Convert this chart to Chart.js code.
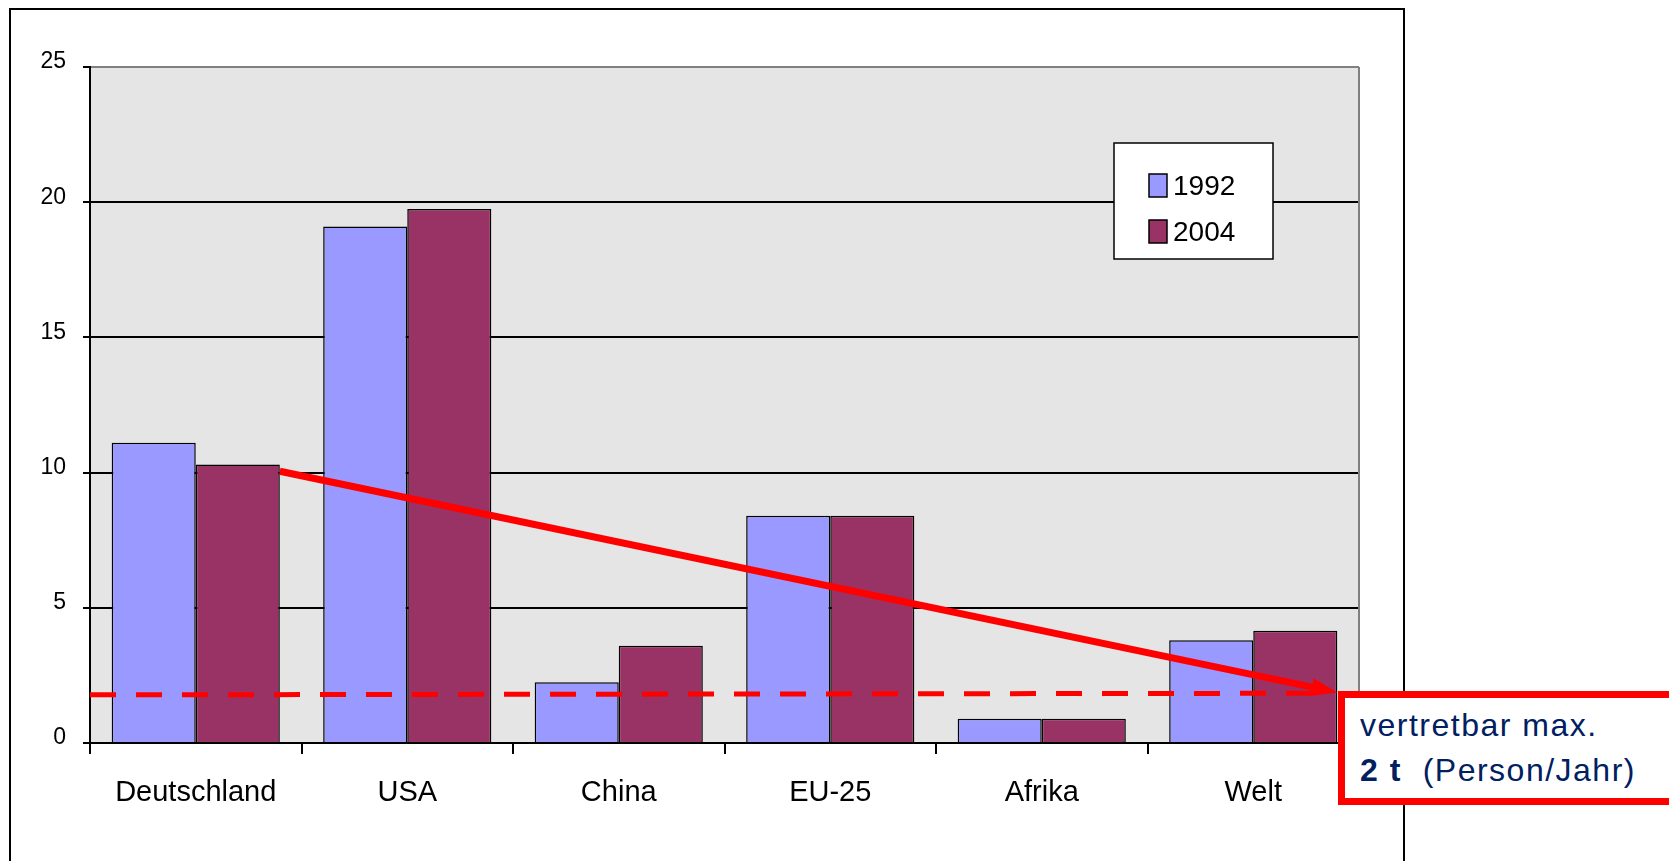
<!DOCTYPE html>
<html>
<head>
<meta charset="utf-8">
<title>CO2 pro Kopf</title>
<script src="https://cdn.jsdelivr.net/npm/chart.js@4.4.1/dist/chart.umd.min.js"></script>
<style>
  html, body { margin: 0; padding: 0; background: #fff; overflow: hidden; }
  #wrap { position: relative; width: 1669px; height: 861px; }
  #frame { position: absolute; left: 9px; top: 8px; width: 1396px; height: 900px; box-sizing: border-box; border: 2px solid #000; }
  #co2Chart { position: absolute; left: 0; top: 0; }
  #note {
    position: absolute; left: 1338px; top: 691px; width: 345px; height: 114px;
    box-sizing: border-box; border: 7px solid #ff0000; background: #fff;
    color: #002060; font-family: "Liberation Sans", Arial, sans-serif;
    font-size: 32px; line-height: 45px; padding: 5px 0 0 15px;
    letter-spacing: 1.5px; white-space: nowrap;
  }
</style>
</head>
<body>
<div id="wrap">
  <div id="frame"></div>
  <canvas id="co2Chart" width="1669" height="861"></canvas>
  <div id="note">vertretbar max.<br><b>2 t</b>&nbsp;&nbsp;(Person/Jahr)</div>
</div>
<script>
const categories = ["Deutschland", "USA", "China", "EU-25", "Afrika", "Welt"];
const years = ["1992", "2004"];
const values1992 = [11.1, 19.1, 2.25, 8.4, 0.9, 3.8];
const values2004 = [10.3, 19.75, 3.6, 8.4, 0.9, 4.15];
const yTicks = [0, 5, 10, 15, 20, 25];
const limitLine = [1.78, 1.84];   // gestrichelte Linie, links / rechts
const trendArrow = [10.05, 1.87]; // Pfeil: Deutschland 2004 -> Welt 2004

const FONT = "'Liberation Sans', Arial, sans-serif";

const chartDeco = {
    id: "chartDeco",
    beforeDraw(chart) {
        const { ctx, chartArea: a } = chart;
        ctx.save();
        ctx.fillStyle = "#e5e5e5";
        ctx.fillRect(a.left, a.top, a.right - a.left, a.bottom - a.top);
        ctx.restore();
    },
    afterDatasetsDraw(chart) {
        const { ctx, chartArea: a, scales } = chart;
        const y = scales.y;
        const bars = chart.getDatasetMeta(1).data;
        const first = bars[0];
        const last = bars[bars.length - 1];
        const x1 = first.x + first.width / 2;
        const y1 = y.getPixelForValue(trendArrow[0]);
        const x2 = last.x + last.width / 2;
        const y2 = y.getPixelForValue(trendArrow[1]);

        ctx.save();
        // rechter Rand der Zeichenfläche
        ctx.strokeStyle = "#808080";
        ctx.lineWidth = 2;
        ctx.beginPath();
        ctx.moveTo(a.right, a.top);
        ctx.lineTo(a.right, a.bottom);
        ctx.stroke();

        // gestrichelte Grenzlinie
        ctx.strokeStyle = "#ff0000";
        ctx.lineWidth = 5;
        ctx.setLineDash([26, 20]);
        ctx.beginPath();
        ctx.moveTo(a.left, y.getPixelForValue(limitLine[0]));
        ctx.lineTo(x2 - 20, y.getPixelForValue(limitLine[1]));
        ctx.stroke();
        ctx.setLineDash([]);

        // Pfeil
        const ang = Math.atan2(y2 - y1, x2 - x1);
        const head = 26, half = 9;
        ctx.lineWidth = 7;
        ctx.beginPath();
        ctx.moveTo(x1, y1);
        ctx.lineTo(x2 - Math.cos(ang) * (head - 4), y2 - Math.sin(ang) * (head - 4));
        ctx.stroke();
        ctx.fillStyle = "#ff0000";
        ctx.beginPath();
        ctx.moveTo(x2, y2);
        ctx.lineTo(x2 - Math.cos(ang) * head + Math.sin(ang) * half, y2 - Math.sin(ang) * head - Math.cos(ang) * half);
        ctx.lineTo(x2 - Math.cos(ang) * head - Math.sin(ang) * half, y2 - Math.sin(ang) * head + Math.cos(ang) * half);
        ctx.closePath();
        ctx.fill();
        ctx.restore();
    },
    afterDraw(chart) {
        // Legende
        const ctx = chart.ctx;
        const box = { x: 1114, y: 143, w: 159, h: 116 };
        ctx.save();
        ctx.fillStyle = "#fff";
        ctx.fillRect(box.x, box.y, box.w, box.h);
        ctx.strokeStyle = "#000";
        ctx.lineWidth = 1.5;
        ctx.strokeRect(box.x, box.y, box.w, box.h);
        ctx.font = "28px " + FONT;
        ctx.textBaseline = "alphabetic";
        chart.data.datasets.forEach((ds, i) => {
            const top = 174 + i * 46;
            ctx.fillStyle = ds.backgroundColor;
            ctx.fillRect(1149, top, 18, 23);
            ctx.strokeStyle = "#000";
            ctx.lineWidth = 1.5;
            ctx.strokeRect(1149, top, 18, 23);
            ctx.fillStyle = "#000";
            ctx.fillText(ds.label, 1173, top + 21);
        });
        ctx.restore();
    }
};

document.addEventListener("DOMContentLoaded", () => {
    const ctx = document.getElementById("co2Chart").getContext("2d");
    new Chart(ctx, {
        type: "bar",
        data: {
            labels: categories,
            datasets: [{
                label: years[0],
                data: values1992,
                backgroundColor: "#9999ff",
                borderColor: "#000",
                borderWidth: 1.5,
                categoryPercentage: 0.795,
                barPercentage: 1.0
            }, {
                label: years[1],
                data: values2004,
                backgroundColor: "#993366",
                borderColor: "#000",
                borderWidth: 1.5,
                categoryPercentage: 0.795,
                barPercentage: 1.0
            }]
        },
        options: {
            responsive: false,
            animation: false,
            devicePixelRatio: 1,
            layout: { padding: { left: 10, top: 67, right: 310, bottom: 0 } },
            plugins: {
                legend: { display: false },
                tooltip: { enabled: false }
            },
            scales: {
                x: {
                    afterFit: s => { s.height = 118; },
                    border: { color: "#000", width: 2 },
                    grid: {
                        offset: true,
                        drawOnChartArea: false,
                        drawTicks: true,
                        tickLength: 11,
                        tickColor: "#000",
                        lineWidth: 2
                    },
                    ticks: {
                        color: "#000",
                        padding: 22,
                        maxRotation: 0,
                        font: { family: FONT, size: 29 }
                    }
                },
                y: {
                    min: 0,
                    max: 25,
                    afterFit: s => { s.width = 80; },
                    afterBuildTicks: s => { s.ticks = yTicks.map(v => ({ value: v })); },
                    border: { color: "#000", width: 2 },
                    grid: {
                        color: c => (c.tick && c.tick.value === 25 ? "#808080" : "#000"),
                        lineWidth: 2,
                        tickLength: 7,
                        tickColor: "#000"
                    },
                    ticks: {
                        color: "#000",
                        padding: 17,
                        labelOffset: -5,
                        font: { family: FONT, size: 23 }
                    }
                }
            }
        },
        plugins: [chartDeco]
    });
});
</script>
</body>
</html>
